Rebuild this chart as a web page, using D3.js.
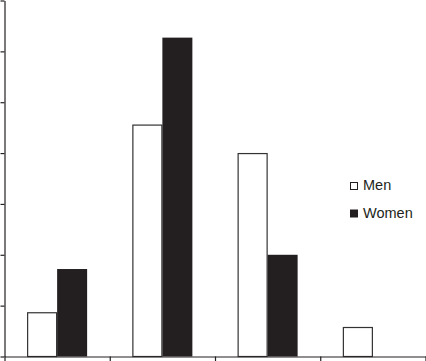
<!DOCTYPE html>
<html>
<head>
<meta charset="utf-8">
<script src="https://cdnjs.cloudflare.com/ajax/libs/d3/7.8.5/d3.min.js"></script>
<style>
  html, body { margin: 0; padding: 0; background: #fff; }
  svg { display: block; }
  .legend text { font-family: Arial, "Liberation Sans", sans-serif; font-size: 14.5px; fill: #231f20; }
</style>
</head>
<body>
<script>
// chart values (percent)
const categories = ["A", "B", "C", "D"];
const series = ["Men", "Women"];
const menValues = [8.7, 45.6, 40.0, 5.8];
const womenValues = [17.2, 62.7, 20.0, 0];
const yTicks = [0, 10, 20, 30, 40, 50, 60, 70];

const width = 426;
const height = 361;
const ink = "#231f20";

const svg = d3.select("body")
  .append("svg")
  .attr("width", width)
  .attr("height", height);

// x: one band per category, edges used for the axis ticks
const left = 4.5, right = 425.5, base = 356.5;
const x0 = d3.scaleBand()
  .domain(categories)
  .range([left, right])
  .paddingInner(0.43)
  .paddingOuter(0.215);

const x1 = d3.scaleBand()
  .domain(series)
  .range([0, x0.bandwidth()]);

const xEdge = d3.scaleLinear()
  .domain([0, categories.length])
  .range([left, right]);

const y = d3.scaleLinear()
  .domain([0, 70])
  .range([base, 0.5]);

const rows = categories.map(function(c, i) {
  return { cat: c, values: [
    { key: "Men", value: menValues[i] },
    { key: "Women", value: womenValues[i] }
  ]};
});

// bars
const groups = svg.selectAll("g.grp")
  .data(rows)
  .enter()
  .append("g")
  .attr("class", "grp")
  .attr("transform", function(d) { return "translate(" + x0(d.cat) + ",0)"; });

groups.selectAll("rect")
  .data(function(d) { return d.values.filter(function(v) { return v.value > 0; }); })
  .enter()
  .append("rect")
  .attr("x", function(d) { return x1(d.key) + (d.key === "Men" ? 0.5 : 0); })
  .attr("y", function(d) { return y(d.value) + (d.key === "Men" ? 0.5 : 0); })
  .attr("width", function(d) { return x1.bandwidth() - (d.key === "Men" ? 1 : 0); })
  .attr("height", function(d) { return base - y(d.value) - (d.key === "Men" ? 0.5 : 0); })
  .attr("fill", function(d) { return d.key === "Men" ? "#fff" : ink; })
  .attr("stroke", function(d) { return d.key === "Men" ? "#333" : "none"; })
  .attr("stroke-width", 1.2);

// y axis
svg.append("g")
  .attr("transform", "translate(" + left + ",0)")
  .call(d3.axisLeft(y).tickValues(yTicks).tickSize(4).tickSizeOuter(0).tickFormat(""))
  .call(function(g) {
    g.selectAll("path, line").attr("stroke", ink).attr("stroke-width", 1.2);
  });

// x axis
svg.append("g")
  .attr("transform", "translate(0," + base + ")")
  .call(d3.axisBottom(xEdge).tickValues(d3.range(categories.length + 1)).tickSize(5).tickSizeOuter(0).tickFormat(""))
  .call(function(g) {
    g.selectAll("path, line").attr("stroke", ink).attr("stroke-width", 1.2);
  });

// legend
const legend = svg.append("g").attr("class", "legend");
const legendRows = legend.selectAll("g")
  .data(series)
  .enter()
  .append("g")
  .attr("transform", function(d, i) { return "translate(350," + (190 + i * 27.5) + ")"; });

legendRows.append("rect")
  .attr("x", 0.5)
  .attr("y", -7.5)
  .attr("width", 7)
  .attr("height", 7)
  .attr("fill", function(d) { return d === "Men" ? "#fff" : ink; })
  .attr("stroke", ink)
  .attr("stroke-width", 1);

legendRows.append("text")
  .attr("x", 13)
  .attr("y", 0)
  .text(function(d) { return d; });
</script>
</body>
</html>
